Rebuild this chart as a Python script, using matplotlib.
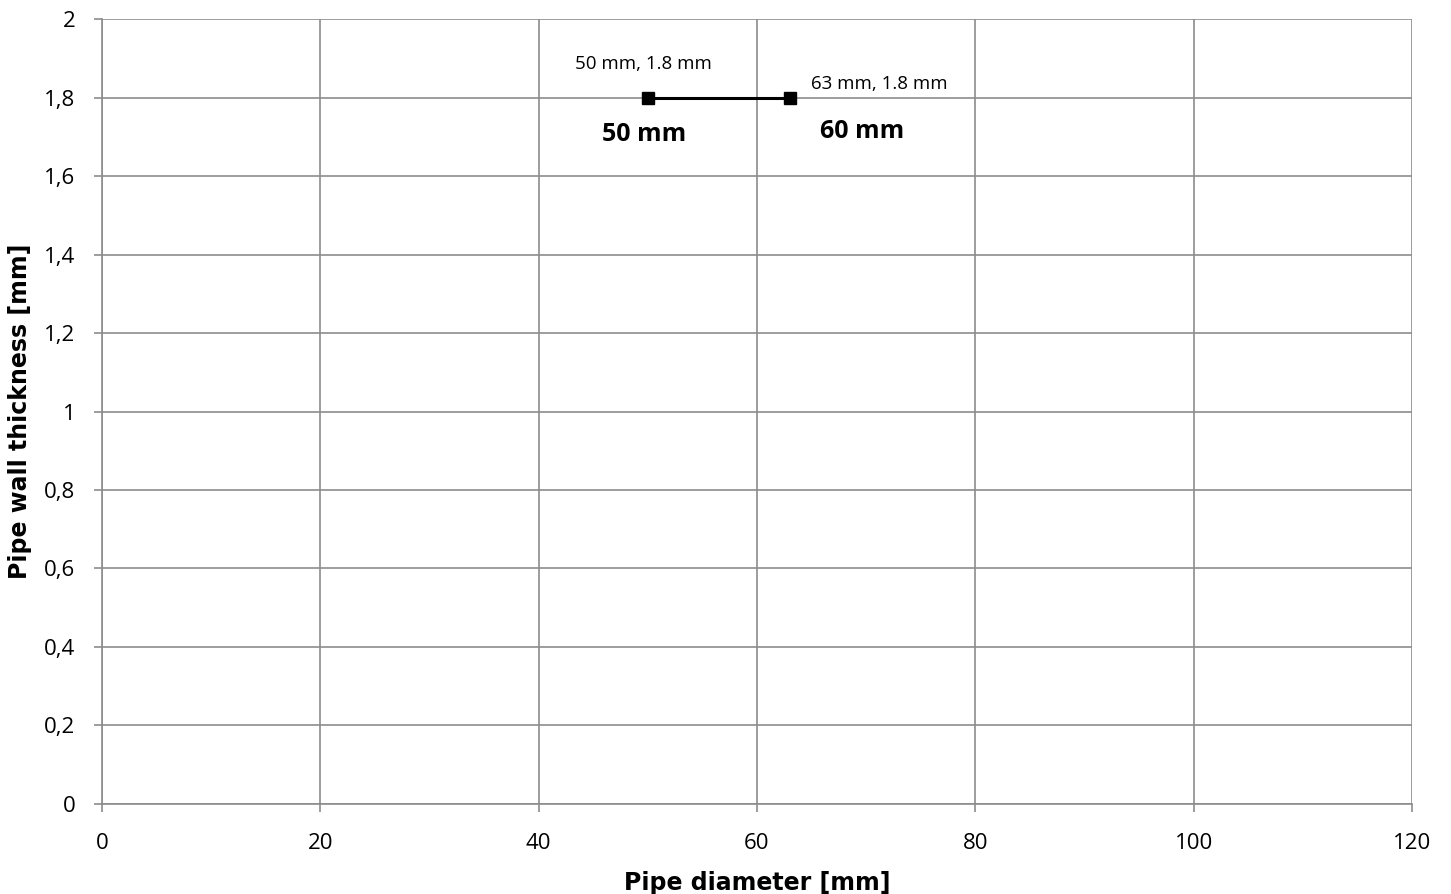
import matplotlib.pyplot as plt
from matplotlib.ticker import FuncFormatter

# data
diameters = [50, 63]
thickness = [1.8, 1.8]
point_labels = ["50 mm, 1.8 mm", "63 mm, 1.8 mm"]
box_labels = ["50 mm", "60 mm"]
box_pos = [(49.7, 1.707), (69.6, 1.714)]

fig = plt.figure(figsize=(14.51, 8.94), dpi=100)
ax = fig.add_axes([0.0703, 0.1007, 0.9028, 0.878])

ax.plot(diameters, thickness, color='black', lw=2.2, marker='s', ms=9, zorder=3)

# data labels
ax.annotate(point_labels[0], (diameters[0], thickness[0]), xytext=(-3, 24),
            textcoords='offset points', ha='center', va='center',
            fontsize=13.5, family='Open Sans')
ax.annotate(point_labels[1], (diameters[1], thickness[1]), xytext=(15, 10),
            textcoords='offset points', ha='left', va='center',
            fontsize=13.5, family='Open Sans')

for lbl, (bx, by) in zip(box_labels, box_pos):
    ax.text(bx, by, lbl, ha='center', va='center', fontsize=18,
            fontweight='bold', family='Open Sans')

ax.set_xlim(0, 120)
ax.set_ylim(0, 2)
ax.set_xticks(range(0, 121, 20))
ax.set_yticks([i / 10 for i in range(0, 21, 2)])
ax.yaxis.set_major_formatter(FuncFormatter(lambda v, p: ('%g' % v).replace('.', ',')))

ax.grid(True, color='#8c8c8c', lw=1.2)
ax.set_axisbelow(True)
for s in ['top', 'right']:
    ax.spines[s].set_visible(False)
for s in ['left', 'bottom']:
    ax.spines[s].set_color('#8c8c8c')
    ax.spines[s].set_linewidth(1.2)
ax.tick_params(direction='out', length=6, width=1.2, color='#8c8c8c',
               labelsize=16, pad=13)
ax.tick_params(axis='x', pad=15)
for t in ax.get_xticklabels() + ax.get_yticklabels():
    t.set_family('Open Sans')

ax.set_xlabel('Pipe diameter [mm]', fontsize=17, fontweight='bold', labelpad=12)
ax.set_ylabel('Pipe wall thickness [mm]', fontsize=17, fontweight='bold', labelpad=9)

plt.savefig('out.png', dpi=100)
